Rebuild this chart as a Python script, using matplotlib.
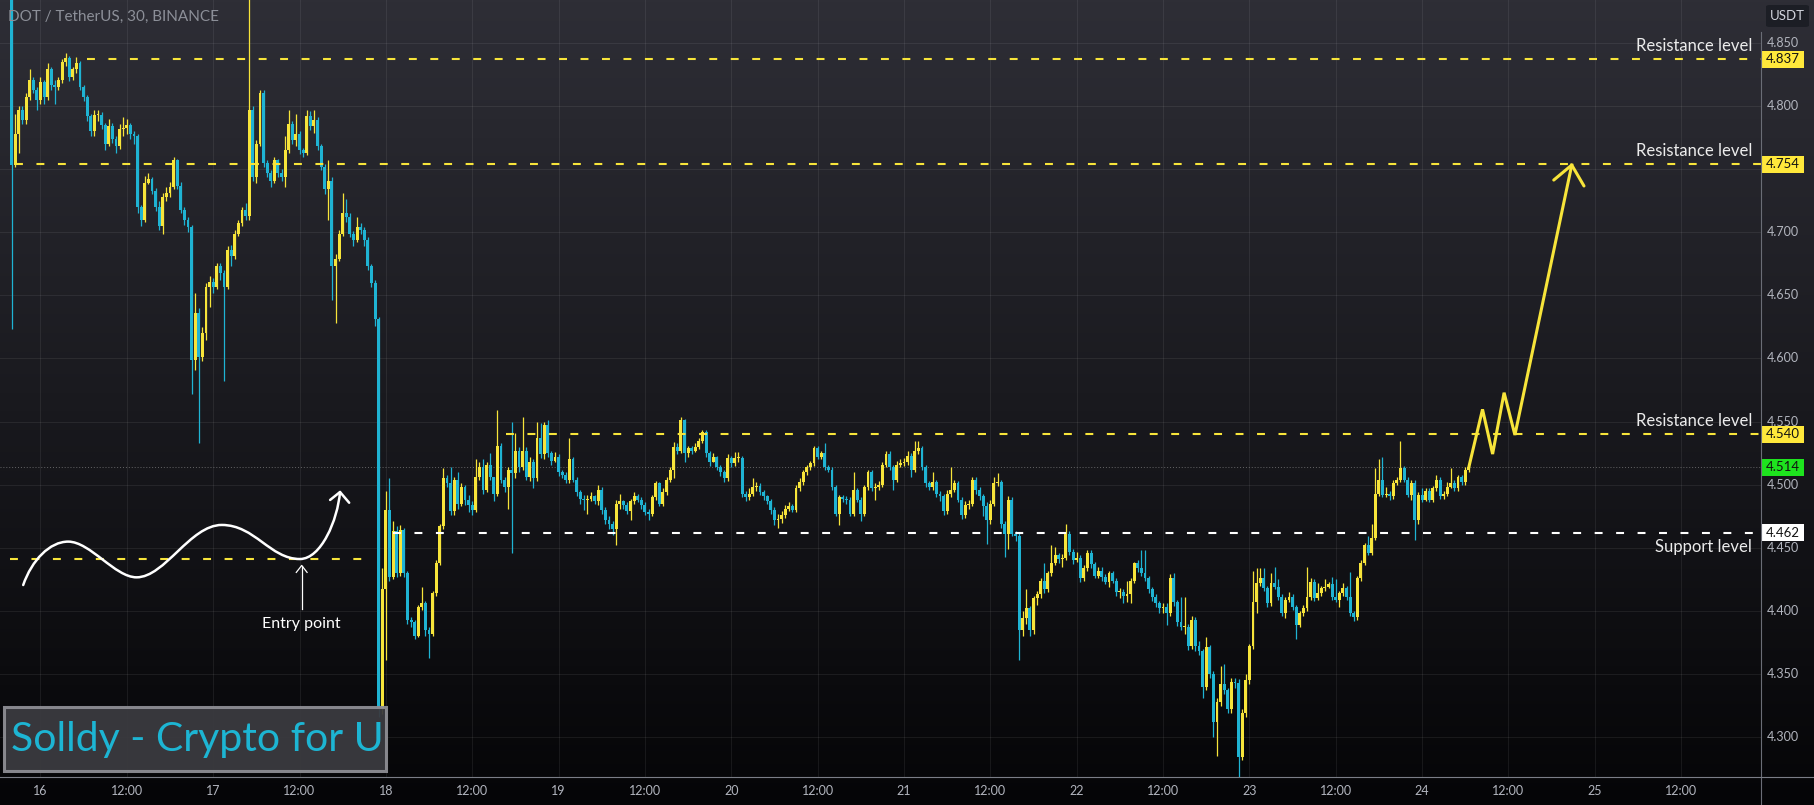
import numpy as np
import matplotlib
matplotlib.use("Agg")
import matplotlib.pyplot as plt
from matplotlib.lines import Line2D
from matplotlib.patches import Rectangle, FancyBboxPatch, PathPatch
from matplotlib.path import Path

plt.rcParams['font.family'] = ['Lato', 'DejaVu Sans']

# DOT / USDT, 30 min bars, prices in thousandths. First bar = 15th 20:00
first_open = 4895
closes = [
    4753, 4778, 4797, 4789, 4807, 4821, 4813, 4805, 4819, 4807,
    4829, 4817, 4815, 4821, 4835, 4838, 4823, 4829, 4834, 4815,
    4807, 4792, 4780, 4793, 4793, 4785, 4770, 4784, 4774, 4768,
    4782, 4783, 4785, 4778, 4776, 4720, 4710, 4739, 4742, 4733,
    4720, 4705, 4728, 4731, 4736, 4757, 4737, 4718, 4710, 4704,
    4599, 4636, 4601, 4620, 4657, 4661, 4657, 4673, 4668, 4657,
    4686, 4681, 4699, 4707, 4718, 4713, 4797, 4744, 4770, 4810,
    4755, 4747, 4741, 4757, 4747, 4744, 4765, 4786, 4773, 4778,
    4765, 4763, 4792, 4784, 4789, 4768, 4752, 4734, 4741, 4673,
    4679, 4699, 4715, 4712, 4699, 4694, 4704, 4702, 4694, 4673,
    4660, 4631, 4322, 4417, 4480, 4427, 4463, 4430, 4464, 4430,
    4393, 4391, 4380, 4403, 4406, 4385, 4382, 4414, 4438, 4467,
    4505, 4501, 4479, 4504, 4485, 4498, 4488, 4484, 4480, 4506,
    4514, 4496, 4516, 4506, 4493, 4531, 4504, 4498, 4512, 4509,
    4527, 4514, 4527, 4506, 4518, 4505, 4537, 4524, 4547, 4525,
    4519, 4522, 4510, 4508, 4504, 4520, 4504, 4494, 4489, 4488,
    4489, 4491, 4487, 4496, 4480, 4472, 4469, 4465, 4485, 4487,
    4484, 4479, 4487, 4491, 4488, 4484, 4478, 4477, 4490, 4501,
    4485, 4494, 4504, 4512, 4530, 4527, 4551, 4525, 4529, 4527,
    4530, 4535, 4542, 4525, 4518, 4522, 4514, 4510, 4505, 4521,
    4517, 4521, 4521, 4493, 4490, 4493, 4498, 4499, 4494, 4491,
    4487, 4480, 4472, 4473, 4476, 4481, 4483, 4480, 4497, 4502,
    4510, 4514, 4517, 4529, 4522, 4525, 4514, 4512, 4498, 4477,
    4490, 4489, 4488, 4477, 4496, 4488, 4477, 4498, 4510, 4497,
    4498, 4500, 4516, 4524, 4514, 4504, 4516, 4517, 4518, 4523,
    4512, 4527, 4529, 4514, 4501, 4498, 4502, 4493, 4491, 4479,
    4493, 4496, 4501, 4488, 4476, 4484, 4485, 4504, 4496, 4491,
    4483, 4472, 4485, 4501, 4502, 4469, 4461, 4488, 4461, 4459,
    4385, 4394, 4402, 4385, 4410, 4413, 4424, 4417, 4430, 4438,
    4444, 4441, 4442, 4461, 4447, 4440, 4442, 4426, 4434, 4446,
    4437, 4428, 4432, 4427, 4423, 4430, 4424, 4415, 4415, 4412,
    4413, 4424, 4438, 4434, 4430, 4426, 4417, 4411, 4406, 4402,
    4403, 4398, 4426, 4407, 4391, 4387, 4387, 4372, 4393, 4372,
    4368, 4340, 4371, 4350, 4312, 4328, 4342, 4337, 4322, 4344,
    4343, 4284, 4319, 4345, 4372, 4407, 4422, 4426, 4418, 4406,
    4422, 4419, 4411, 4398, 4409, 4411, 4403, 4389, 4398, 4402,
    4411, 4423, 4410, 4414, 4418, 4419, 4421, 4411, 4409, 4414,
    4418, 4411, 4398, 4395, 4426, 4438, 4452, 4446, 4458, 4493,
    4504, 4492, 4493, 4491, 4501, 4504, 4513, 4504, 4492, 4501,
    4472, 4492, 4488, 4495, 4488, 4497, 4504, 4491, 4493, 4498,
    4501, 4497, 4506, 4502, 4512, 4514,
]
highs = [
    4900, 4794, 4800, 4800, 4810, 4829, 4823, 4815, 4823, 4821,
    4834, 4831, 4821, 4823, 4837, 4842, 4840, 4831, 4839, 4836,
    4817, 4809, 4794, 4797, 4797, 4795, 4787, 4790, 4787, 4776,
    4786, 4791, 4790, 4787, 4780, 4778, 4722, 4745, 4747, 4744,
    4735, 4725, 4731, 4736, 4740, 4760, 4758, 4740, 4720, 4712,
    4706, 4652, 4640, 4625, 4660, 4665, 4664, 4676, 4676, 4670,
    4689, 4690, 4702, 4710, 4720, 4723, 4900, 4800, 4773, 4813,
    4813, 4757, 4749, 4760, 4758, 4750, 4776, 4797, 4788, 4794,
    4780, 4767, 4797, 4796, 4797, 4791, 4770, 4754, 4757, 4744,
    4683, 4702, 4731, 4726, 4715, 4701, 4712, 4707, 4704, 4696,
    4675, 4662, 4633, 4434, 4495, 4505, 4471, 4467, 4468, 4466,
    4432, 4395, 4393, 4405, 4419, 4408, 4387, 4416, 4440, 4469,
    4513, 4508, 4514, 4506, 4510, 4501, 4500, 4492, 4487, 4520,
    4518, 4520, 4518, 4525, 4506, 4559, 4533, 4506, 4514, 4550,
    4541, 4530, 4554, 4530, 4522, 4520, 4550, 4549, 4550, 4551,
    4527, 4526, 4524, 4512, 4510, 4537, 4522, 4506, 4496, 4492,
    4492, 4494, 4492, 4500, 4498, 4482, 4475, 4471, 4488, 4493,
    4488, 4486, 4489, 4494, 4493, 4490, 4486, 4481, 4492, 4503,
    4502, 4497, 4506, 4514, 4534, 4533, 4554, 4552, 4531, 4531,
    4533, 4537, 4543, 4543, 4527, 4525, 4523, 4516, 4512, 4524,
    4523, 4526, 4526, 4523, 4495, 4497, 4505, 4502, 4501, 4496,
    4492, 4489, 4482, 4477, 4479, 4484, 4486, 4485, 4500, 4505,
    4512, 4516, 4519, 4531, 4531, 4527, 4533, 4516, 4514, 4500,
    4492, 4492, 4491, 4490, 4510, 4497, 4490, 4500, 4512, 4512,
    4501, 4503, 4518, 4527, 4527, 4516, 4519, 4520, 4521, 4527,
    4525, 4535, 4535, 4531, 4516, 4503, 4510, 4504, 4495, 4493,
    4496, 4514, 4504, 4503, 4490, 4487, 4488, 4506, 4506, 4498,
    4493, 4486, 4488, 4506, 4509, 4504, 4471, 4491, 4490, 4463,
    4462, 4400, 4417, 4404, 4412, 4416, 4426, 4438, 4432, 4452,
    4451, 4446, 4445, 4469, 4463, 4449, 4447, 4444, 4436, 4448,
    4448, 4439, 4435, 4435, 4429, 4432, 4432, 4426, 4418, 4417,
    4424, 4426, 4439, 4440, 4448, 4448, 4428, 4419, 4413, 4408,
    4406, 4406, 4429, 4430, 4409, 4411, 4411, 4390, 4396, 4395,
    4376, 4370, 4379, 4373, 4352, 4331, 4356, 4358, 4339, 4347,
    4347, 4346, 4322, 4350, 4374, 4432, 4434, 4434, 4434, 4420,
    4430, 4435, 4425, 4413, 4411, 4415, 4413, 4405, 4400, 4405,
    4435, 4426, 4425, 4422, 4420, 4425, 4423, 4427, 4425, 4416,
    4422, 4420, 4431, 4400, 4428, 4440, 4454, 4459, 4469, 4513,
    4520, 4522, 4498, 4495, 4504, 4506, 4535, 4515, 4506, 4504,
    4504, 4494, 4497, 4497, 4497, 4499, 4508, 4506, 4495, 4502,
    4513, 4504, 4508, 4508, 4514, 4516,
]
lows = [
    4623, 4752, 4763, 4786, 4786, 4805, 4810, 4797, 4802, 4802,
    4805, 4813, 4802, 4813, 4818, 4832, 4820, 4821, 4826, 4813,
    4804, 4788, 4776, 4776, 4788, 4782, 4765, 4768, 4771, 4763,
    4766, 4776, 4778, 4774, 4770, 4715, 4705, 4708, 4738, 4730,
    4717, 4702, 4699, 4725, 4728, 4734, 4734, 4715, 4706, 4700,
    4572, 4591, 4533, 4598, 4615, 4641, 4652, 4655, 4662, 4582,
    4655, 4673, 4679, 4697, 4705, 4710, 4710, 4741, 4739, 4768,
    4752, 4744, 4736, 4739, 4744, 4741, 4736, 4763, 4770, 4768,
    4762, 4760, 4761, 4781, 4779, 4765, 4749, 4730, 4710, 4646,
    4628, 4677, 4697, 4708, 4696, 4689, 4692, 4699, 4689, 4670,
    4657, 4626, 4316, 4318, 4361, 4424, 4425, 4427, 4428, 4427,
    4390, 4387, 4378, 4379, 4401, 4380, 4363, 4380, 4412, 4436,
    4465, 4498, 4476, 4476, 4481, 4483, 4484, 4478, 4476, 4478,
    4504, 4493, 4494, 4504, 4487, 4491, 4501, 4494, 4481, 4446,
    4505, 4510, 4512, 4504, 4503, 4497, 4503, 4521, 4520, 4522,
    4516, 4518, 4507, 4505, 4501, 4501, 4502, 4491, 4485, 4480,
    4477, 4487, 4485, 4484, 4477, 4469, 4465, 4460, 4452, 4481,
    4481, 4477, 4472, 4485, 4486, 4481, 4476, 4472, 4475, 4488,
    4483, 4483, 4492, 4502, 4505, 4524, 4525, 4518, 4522, 4524,
    4526, 4528, 4533, 4522, 4515, 4518, 4512, 4507, 4502, 4503,
    4514, 4515, 4518, 4490, 4487, 4488, 4491, 4495, 4492, 4488,
    4485, 4477, 4468, 4466, 4470, 4474, 4479, 4478, 4478, 4495,
    4500, 4508, 4512, 4515, 4520, 4520, 4512, 4510, 4496, 4475,
    4468, 4486, 4485, 4475, 4475, 4486, 4471, 4475, 4496, 4495,
    4488, 4496, 4498, 4514, 4512, 4496, 4502, 4514, 4515, 4516,
    4506, 4510, 4524, 4512, 4498, 4496, 4496, 4490, 4487, 4476,
    4477, 4490, 4494, 4486, 4473, 4474, 4481, 4483, 4493, 4488,
    4475, 4453, 4469, 4483, 4499, 4466, 4443, 4449, 4459, 4455,
    4361, 4380, 4390, 4380, 4382, 4405, 4410, 4414, 4415, 4428,
    4436, 4438, 4435, 4440, 4444, 4437, 4439, 4423, 4424, 4432,
    4434, 4426, 4426, 4424, 4421, 4419, 4422, 4412, 4410, 4406,
    4407, 4406, 4422, 4431, 4428, 4424, 4414, 4408, 4403, 4398,
    4398, 4389, 4396, 4404, 4388, 4385, 4382, 4369, 4370, 4368,
    4365, 4331, 4337, 4347, 4300, 4285, 4325, 4334, 4319, 4319,
    4339, 4268, 4282, 4316, 4342, 4370, 4398, 4420, 4416, 4403,
    4404, 4417, 4409, 4396, 4394, 4407, 4401, 4378, 4387, 4396,
    4400, 4409, 4408, 4409, 4412, 4416, 4418, 4409, 4407, 4403,
    4412, 4409, 4396, 4392, 4393, 4424, 4436, 4444, 4444, 4456,
    4491, 4490, 4490, 4488, 4489, 4500, 4502, 4502, 4490, 4488,
    4456, 4469, 4486, 4487, 4486, 4486, 4495, 4489, 4489, 4491,
    4497, 4495, 4495, 4500, 4500, 4510,
]

day_labels = ['16', '17', '18', '19', '20', '21', '22', '23', '24', '25']
first_bar_hour = 20
price_ticks = [4.30, 4.35, 4.40, 4.45, 4.50, 4.55, 4.60, 4.65, 4.70, 4.75, 4.80, 4.85]

# drawings, anchored at (bar index, price)
resistance_levels = [4.837, 4.754, 4.540]
resistance_from = [21, 1, 137.5]
support_level = 4.462
support_from = 106
entry_level = 4.441
entry_span = [-0.5, 98.7]
last_price = 4.514

wave_pts = [(3.2, 4.4205),
            (5.6, 4.4403), (10.6, 4.4549), (15.7, 4.4549),
            (21.8, 4.4549), (28.7, 4.4266), (34.7, 4.4266),
            (42.6, 4.4266), (49.6, 4.4681), (58.4, 4.4681),
            (67.6, 4.4681), (71.8, 4.4411), (80.1, 4.4411),
            (86.0, 4.4411), (90.6, 4.4720), (91.25, 4.4942)]
wave_head = [(88.5, 4.4879), (91.25, 4.4942), (93.8, 4.4857)]
entry_arrow = [(80.6, 4.4013), (80.6, 4.4356)]
entry_head = [(79.1, 4.4305), (80.6, 4.4360), (82.1, 4.4305)]
entry_text_at = (80.6, 4.3896)

zig_pts = [(405, 4.514), (408.8, 4.5597), (411.6, 4.5243), (414.8, 4.5729),
           (417.8, 4.5394), (433.6, 4.7533)]
zig_head = [(428.6, 4.7414), (433.6, 4.7533), (437.0, 4.7367)]

UP = '#f7e43a'
DOWN = '#1fb3d3'
GRAY = '#b2b5be'

W, H = 1815, 805
PLOT_W, PLOT_H = 1761, 777


def fx(px):
    return px / W


def fy(py):
    return 1 - py / H


fig = plt.figure(figsize=(W / 100, H / 100), dpi=100)

# background gradient
bg = fig.add_axes([0, 0, 1, 1])
bg.axis('off')
t = np.linspace(0, 1, 256)[:, None, None]
top_c = np.array([46, 46, 54]) / 255
bot_c = np.array([5, 5, 7]) / 255
bg.imshow(top_c * (1 - t) + bot_c * t, aspect='auto', extent=[0, 1, 0, 1], origin='upper')
bg.set_xlim(0, 1)
bg.set_ylim(0, 1)

ax = fig.add_axes([0, fy(PLOT_H), fx(PLOT_W), PLOT_H / H])
ax.set_facecolor('none')
ax.set_xlim(-3.25, 486.2)
ax.set_ylim(4.26838, 4.88407)
for s in ax.spines.values():
    s.set_visible(False)

# time ticks: every 12 hours
first_midnight = (24 - first_bar_hour) * 2
tick_pos, tick_lab = [], []
for k, d in enumerate(day_labels):
    tick_pos += [first_midnight + 48 * k, first_midnight + 48 * k + 24]
    tick_lab += [d, '12:00']
ax.set_xticks(tick_pos, tick_lab)
ax.set_yticks(price_ticks)
ax.tick_params(axis='x', length=0, pad=5.5, labelsize=9, labelcolor=GRAY)
ax.tick_params(axis='y', length=0, labelleft=False)
ax.grid(True, color='white', alpha=0.07, linewidth=0.75)
ax.set_axisbelow(True)

# candles
c = np.array(closes) / 1000
hi = np.array(highs) / 1000
lo = np.array(lows) / 1000
o = np.r_[first_open / 1000, c[:-1]]
idx = np.arange(len(c))
cols = np.where(c >= o, UP, DOWN)
ax.vlines(idx, lo, hi, colors=cols, linewidth=0.9, zorder=2)
ax.bar(idx, np.maximum(np.abs(c - o), 0.0009), bottom=np.minimum(o, c),
       width=0.8, color=cols, linewidth=0, zorder=2)

# levels
dash = (0, (3.8, 6.5))
x_end = ax.get_xlim()[1]
for lvl, x0 in zip(resistance_levels, resistance_from):
    ax.hlines(lvl, x0, x_end, colors=UP, linewidth=1.5, linestyles=dash, zorder=3)
    ax.text(483.7, lvl + 0.0103, 'Resistance level', color='#ececec', fontsize=12,
            ha='right', va='center', zorder=4)
ax.hlines(support_level, support_from, x_end, colors='white', linewidth=1.5,
          linestyles=dash, zorder=3)
ax.text(483.7, support_level - 0.0111, 'Support level', color='#ececec', fontsize=12,
        ha='right', va='center', zorder=4)
ax.hlines(entry_level, entry_span[0], entry_span[1], colors=UP, linewidth=1.5,
          linestyles=dash, zorder=3)
ax.axhline(last_price, color='#9a9a9a', linewidth=0.7, linestyle=(0, (1, 2)),
           alpha=0.6, zorder=1)

# hand-drawn wave and entry arrow
codes = [Path.MOVETO] + [Path.CURVE4] * (len(wave_pts) - 1)
ax.add_patch(PathPatch(Path(wave_pts, codes), fill=False, edgecolor='white',
                       linewidth=1.8, capstyle='round', zorder=4))
hx, hy = zip(*wave_head)
ax.plot(hx, hy, color='white', linewidth=1.8, solid_capstyle='round', zorder=4)
ex, ey = zip(*entry_arrow)
ax.plot(ex, ey, color='white', linewidth=0.9, zorder=4)
hx, hy = zip(*entry_head)
ax.plot(hx, hy, color='white', linewidth=0.9, zorder=4)
ax.text(entry_text_at[0], entry_text_at[1], 'Entry point', color='white', fontsize=11.5,
        ha='center', va='center', zorder=4)

# projected move
zx, zy = zip(*zig_pts)
ax.plot(zx, zy, color=UP, linewidth=2.2, solid_joinstyle='miter', zorder=4)
hx, hy = zip(*zig_head)
ax.plot(hx, hy, color=UP, linewidth=2.2, solid_capstyle='round', zorder=4)

# price scale
rax = fig.add_axes([fx(PLOT_W), fy(PLOT_H), fx(W - PLOT_W), PLOT_H / H])
rax.set_facecolor('none')
rax.axis('off')
rax.set_xlim(0, W - PLOT_W)
rax.set_ylim(ax.get_ylim())
box_h = 17 / 1262
tags = [(4.837, '#ffe83b', '#131313'), (4.754, '#ffe83b', '#131313'),
        (4.540, '#ffe83b', '#131313'), (last_price, '#1ee31e', '#131313'),
        (support_level, '#ffffff', '#131313')]
for p in price_ticks:
    # the price tags cover the scale labels they sit on
    if any(abs(p - lvl) < box_h * 0.7 for lvl, _, _ in tags):
        continue
    rax.text(22, p, f'{p:.3f}', color=GRAY, fontsize=9, ha='center', va='center')
for lvl, fc, tc in tags:
    rax.add_patch(Rectangle((1, lvl - box_h / 2), 42, box_h, facecolor=fc,
                            edgecolor='none', zorder=3))
    rax.text(22, lvl, f'{lvl:.3f}', color=tc, fontsize=9.5, ha='center', va='center',
             zorder=4)

# frame lines
fig.add_artist(Line2D([fx(PLOT_W)] * 2, [fy(32), 0], transform=fig.transFigure,
                      color='#6a6d76', linewidth=0.8))
fig.add_artist(Line2D([0, 1], [fy(PLOT_H)] * 2, transform=fig.transFigure,
                      color='#7a7d86', linewidth=0.8))

# USDT badge
fig.add_artist(FancyBboxPatch((fx(1766), fy(27)), 43 / W, 22 / H,
                              boxstyle='round,pad=0,rounding_size=0.002',
                              transform=fig.transFigure, facecolor='#1c1e25',
                              edgecolor='none'))
fig.text(fx(1787.5), fy(16), 'USDT', color='#d1d4dc', fontsize=9.5, ha='center', va='center')

# header
fig.text(fx(8), fy(17), 'DOT / TetherUS, 30, BINANCE', color='#8c8f98', fontsize=11,
         ha='left', va='center')

# watermark
fig.add_artist(Rectangle((fx(4), fy(771)), 382 / W, 64 / H, transform=fig.transFigure,
                         facecolor='#3a3a3f', edgecolor='#8d8d93', linewidth=2.2,
                         alpha=0.95))
fig.text(fx(11), fy(739), 'Solldy - Crypto for U', color='#1db5d3', fontsize=29.5,
         ha='left', va='center')

fig.savefig('out.png', dpi=100)
